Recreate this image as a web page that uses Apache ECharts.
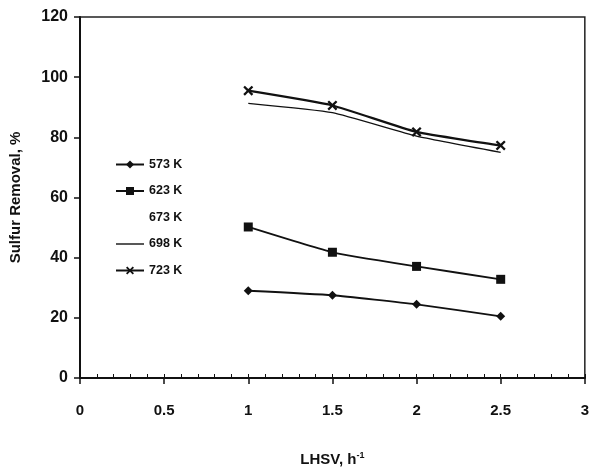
<!DOCTYPE html>
<html>
<head>
<meta charset="utf-8">
<script src="https://cdn.jsdelivr.net/npm/echarts@6/dist/echarts.min.js"></script>
<style>
  html, body { margin: 0; padding: 0; background: #fff; }
  #chart { width: 592px; height: 472px; }
</style>
</head>
<body>
<div id="chart"></div>
<script>
// LHSV values, h^-1
const lhsv = [1, 1.5, 2, 2.5];
// sulfur removal, % per temperature
const k573 = [29, 27.5, 24.5, 20.5];
const k623 = [50.2, 41.8, 37.1, 32.8];
const k673 = []; // not visible in the figure
const k698 = [91.3, 88.2, 80.4, 75];
const k723 = [95.5, 90.6, 81.8, 77.3];

const seriesNames = ['573 K', '623 K', '673 K', '698 K', '723 K'];

const xMark = 'path://M0,1.6L1.6,0L5,3.4L8.4,0L10,1.6L6.6,5L10,8.4L8.4,10L5,6.6L1.6,10L0,8.4L3.4,5Z';
const thinLine = 'path://M0,4.3L28,4.3L28,5.7L0,5.7Z';
const font = "'Liberation Sans', Arial, sans-serif";
const narrow = "'Liberation Sans Narrow', 'Liberation Sans', Arial, sans-serif";

function pairs(ys) {
  return ys.map((y, i) => [lhsv[i], y]);
}

function line(name, ys, symbol, size, width) {
  return {
    name: name,
    type: 'line',
    data: pairs(ys),
    symbol: symbol,
    symbolSize: size,
    smooth: 0.15,
    lineStyle: { color: '#111', width: width },
    itemStyle: { color: '#111' },
    xAxisIndex: 0,
    yAxisIndex: 0
  };
}

const chart = echarts.init(document.getElementById('chart'));
chart.setOption({
  backgroundColor: '#fff',
  animation: false,
  grid: {
    left: 80, right: 7, top: 17, bottom: 92,
    show: true, borderColor: '#222', borderWidth: 1.5
  },
  legend: {
    orient: 'vertical',
    left: 110, top: 153,
    itemWidth: 28, itemHeight: 10, itemGap: 13.5,
    data: seriesNames.map(n => n === '698 K'
      ? { name: n, icon: thinLine, itemStyle: { color: '#111', borderWidth: 0 } }
      : n),
    textStyle: { fontFamily: narrow, fontWeight: 'bold', fontSize: 12.5, color: '#111' }
  },
  xAxis: [{
    type: 'value', min: 0, max: 3, interval: 0.5,
    axisLine: { lineStyle: { color: '#111', width: 2 } },
    axisTick: { length: 6, lineStyle: { color: '#111', width: 1.5 } },
    splitLine: { show: false },
    axisLabel: {
      margin: 25, color: '#111', fontFamily: font, fontWeight: 'bold', fontSize: 15,
      formatter: v => String(v)
    },
    name: 'LHSV, h{sup|-1}',
    nameLocation: 'middle', nameGap: 73,
    nameTextStyle: {
      color: '#111', fontFamily: narrow, fontWeight: 'bold', fontSize: 15,
      rich: { sup: { fontSize: 9, fontWeight: 'bold', fontFamily: narrow, color: '#111', verticalAlign: 'top', padding: [0, 0, 8, 0] } }
    }
  }, {
    type: 'value', min: 0, max: 3, interval: 0.1, position: 'bottom',
    axisLine: { show: false },
    axisTick: { inside: true, length: 4, lineStyle: { color: '#111', width: 1 } },
    axisLabel: { show: false },
    splitLine: { show: false }
  }],
  yAxis: {
    type: 'value', min: 0, max: 120, interval: 20,
    axisLine: { show: true, lineStyle: { color: '#111', width: 2 } },
    axisTick: { show: true, length: 6, lineStyle: { color: '#111', width: 1.5 } },
    splitLine: { show: false },
    axisLabel: { margin: 12, color: '#111', fontFamily: font, fontWeight: 'bold', fontSize: 16 },
    name: 'Sulfur Removal, %',
    nameLocation: 'middle', nameGap: 57,
    nameTextStyle: { color: '#111', fontFamily: font, fontWeight: 'bold', fontSize: 15 }
  },
  series: [
    line('573 K', k573, 'diamond', 9, 1.8),
    line('623 K', k623, 'rect', 9, 1.8),
    {
      name: '673 K', type: 'line', data: pairs(k673), symbol: 'none',
      lineStyle: { width: 0, opacity: 0 }, itemStyle: { color: 'rgba(0,0,0,0)' }
    },
    line('698 K', k698, 'none', 1, 1.3),
    line('723 K', k723, xMark, 10, 2.2)
  ]
});
</script>
</body>
</html>
